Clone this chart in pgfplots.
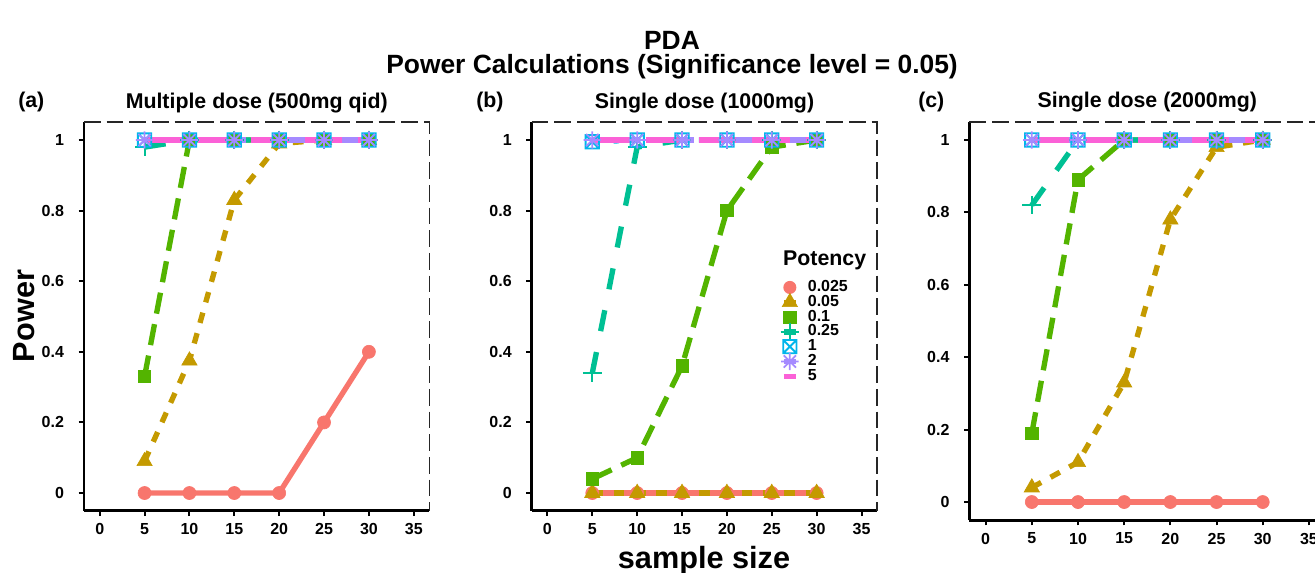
\documentclass[border=0pt]{standalone}
\usepackage{fontspec}
\setmainfont{Liberation Sans}
\usepackage{pgfplots}
\pgfplotsset{compat=1.18}

\definecolor{c1}{HTML}{F8766D}
\definecolor{c2}{HTML}{C49A00}
\definecolor{c3}{HTML}{53B400}
\definecolor{c4}{HTML}{00C094}
\definecolor{c5}{HTML}{00B6EB}
\definecolor{c6}{HTML}{A58AFF}
\definecolor{c7}{HTML}{FB61D7}

\pgfdeclareplotmark{boxx}{%
  \pgfpathrectangle{\pgfpoint{-\pgfplotmarksize}{-\pgfplotmarksize}}{\pgfpoint{2\pgfplotmarksize}{2\pgfplotmarksize}}%
  \pgfpathmoveto{\pgfpoint{-\pgfplotmarksize}{-\pgfplotmarksize}}\pgfpathlineto{\pgfpoint{\pgfplotmarksize}{\pgfplotmarksize}}%
  \pgfpathmoveto{\pgfpoint{-\pgfplotmarksize}{\pgfplotmarksize}}\pgfpathlineto{\pgfpoint{\pgfplotmarksize}{-\pgfplotmarksize}}%
  \pgfusepathqstroke}
\pgfdeclareplotmark{ast8}{%
  \pgfpathmoveto{\pgfpoint{-\pgfplotmarksize}{0pt}}\pgfpathlineto{\pgfpoint{\pgfplotmarksize}{0pt}}%
  \pgfpathmoveto{\pgfpoint{0pt}{-\pgfplotmarksize}}\pgfpathlineto{\pgfpoint{0pt}{\pgfplotmarksize}}%
  \pgfpathmoveto{\pgfpoint{-0.707\pgfplotmarksize}{-0.707\pgfplotmarksize}}\pgfpathlineto{\pgfpoint{0.707\pgfplotmarksize}{0.707\pgfplotmarksize}}%
  \pgfpathmoveto{\pgfpoint{-0.707\pgfplotmarksize}{0.707\pgfplotmarksize}}\pgfpathlineto{\pgfpoint{0.707\pgfplotmarksize}{-0.707\pgfplotmarksize}}%
  \pgfusepathqstroke}

\tikzset{
  ln/.style={line width=4pt, line join=round, line cap=butt},
  lt1/.style={ln,solid},
  lt2/.style={ln,dash pattern=on 8pt off 8pt},
  lt3/.style={ln,dash pattern=on 16pt off 8pt},
  lt4/.style={ln,dash pattern=on 16pt off 16pt},
  lt5/.style={ln,dash pattern=on 4pt off 12pt},
  lt6/.style={ln,dash pattern=on 4pt off 12pt on 16pt off 12pt},
  lt7/.style={ln,dash pattern=on 28pt off 12pt},
  m1/.style={c1, mark=*, mark size=4.9pt, mark options={solid, fill=c1, draw=c1, line width=0.5pt}},
  m2/.style={c2, mark=triangle*, mark size=6.6pt, mark options={solid, fill=c2, draw=c2, line width=0.5pt}},
  m3/.style={c3, mark=square*, mark size=4.6pt, mark options={solid, fill=c3, draw=c3, line width=0.5pt}},
  m4/.style={c4, mark=+, mark size=7pt, mark options={solid, line width=1.5pt}},
  m5/.style={c5, mark=boxx, mark size=5pt, mark options={solid, line width=1.4pt}},
  m6/.style={c6, mark=ast8, mark size=6.5pt, mark options={solid, line width=1.3pt}},
  bb/.style={draw=none, fill=none},
}

\newcommand{\paneldata}[7]{%
  \addplot[forget plot, c1, lt1] coordinates {#1};
  \addplot[forget plot, c2, lt2] coordinates {#2};
  \addplot[forget plot, c3, lt3] coordinates {#3};
  \addplot[forget plot, c4, lt4] coordinates {#4};
  \addplot[forget plot, c5, lt5] coordinates {#5};
  \addplot[forget plot, c6, lt6] coordinates {#6};
  \addplot[forget plot, c7, lt7] coordinates {#7};
  \addplot[forget plot, only marks, m1] coordinates {#1};
  \addplot[forget plot, only marks, m2] coordinates {#2};
  \addplot[forget plot, only marks, m3] coordinates {#3};
  \addplot[forget plot, only marks, m4] coordinates {#4};
  \addplot[forget plot, only marks, m5] coordinates {#5};
  \addplot[forget plot, only marks, m6] coordinates {#6};
  \draw[black!85, line width=1.4pt, dash pattern=on 12.5pt off 4.5pt] (rel axis cs:0,1) -- (rel axis cs:1,1) -- (rel axis cs:1,0);
}

\pgfplotsset{
  panel/.style={
    scale only axis, anchor=north west,
    xmin=-1.75, xmax=36.75, ymin=-0.05, ymax=1.05,
    axis x line*=bottom, axis y line*=left,
    axis line style={line width=2.2pt, black, -},
    tick style={line width=1.5pt, black},
    major tick length=4pt, tick align=outside,
    xtick={0,5,10,15,20,25,30,35},
    ytick={0,0.2,0.4,0.6,0.8,1},
    yticklabels={0,0.2,0.4,0.6,0.8,1},
    /pgf/number format/assume math mode=true,
    ticklabel style={font=\bfseries\fontsize{12}{12}\selectfont},
    xticklabel style={yshift=-2pt},
    yticklabel style={xshift=-7.5pt},
    title style={font=\bfseries\fontsize{16}{16}\selectfont, at={(0.5,1)}, anchor=base, inner sep=0pt, yshift=4.5pt},
    clip=false,
  },
}

\begin{document}
\begin{tikzpicture}
% titles
\node[anchor=base, font=\bfseries\fontsize{19.8}{20}\selectfont] at (504pt,-36.8pt) {PDA};
\node[anchor=base, font=\bfseries\fontsize{19.8}{20}\selectfont] at (504pt,-54.8pt) {Power Calculations (Significance level = 0.05)};
\node[anchor=base west, font=\bfseries\fontsize{16}{16}\selectfont, inner sep=0pt] at (13.5pt,-80.3pt) {(a)};
\node[anchor=base west, font=\bfseries\fontsize{16}{16}\selectfont, inner sep=0pt] at (357pt,-80.3pt) {(b)};
\node[anchor=base west, font=\bfseries\fontsize{16}{16}\selectfont, inner sep=0pt] at (688.5pt,-80.3pt) {(c)};
\node[anchor=base, rotate=90, font=\bfseries\fontsize{23}{23}\selectfont, inner sep=0pt] at (25.5pt,-237pt) {Power};
\node[anchor=base, font=\bfseries\fontsize{23}{23}\selectfont, inner sep=0pt] at (528pt,-426.5pt) {sample size};

% panel (a)
\begin{axis}[panel, at={(63pt,-91.8pt)}, width=259.1pt, height=291.2pt, title={Multiple dose (500mg qid)}]
\paneldata
{(5,0) (10,0) (15,0) (20,0) (25,0.2) (30,0.4)}
{(5,0.09) (10,0.375) (15,0.83) (20,0.99) (25,1) (30,1)}
{(5,0.33) (10,1) (15,1) (20,1) (25,1) (30,1)}
{(5,0.98) (10,1) (15,1) (20,1) (25,1) (30,1)}
{(5,1) (10,1) (15,1) (20,1) (25,1) (30,1)}
{(5,1) (10,1) (15,1) (20,1) (25,1) (30,1)}
{(5,1) (10,1) (15,1) (20,1) (25,1) (30,1)}
\end{axis}

% panel (b)
\begin{axis}[panel, at={(398.8pt,-91.8pt)}, width=259.1pt, height=291.2pt, title={Single dose (1000mg)},
  legend style={at={(0.724,0.594)}, anchor=north west, draw=none, fill=none, inner sep=0pt, outer sep=0pt,
    row sep=0pt, column sep=7.5pt,
    nodes={inner sep=0pt, font=\bfseries\fontsize{12}{12}\selectfont, text height=8.6pt, text depth=2.5pt}},
  legend cell align=left]
\addlegendimage{legend image code/.code={\path[bb] (-6pt,-3pt) rectangle (6pt,3pt);
  \draw[overlay,c1,line width=4pt,solid] (-4.5pt,0pt) -- (4.5pt,0pt);
  \fill[overlay,c1,draw=none] (0pt,0pt) circle (4.9pt);}}
\addlegendimage{legend image code/.code={\path[bb] (-6pt,-3pt) rectangle (6pt,3pt);
  \draw[overlay,c2,line width=4pt,solid] (-4.5pt,0pt) -- (4.5pt,0pt);
  \draw[overlay,c2,fill=c2,line width=0.5pt,solid] plot[only marks, mark=triangle*, mark size=6.6pt] coordinates {(0pt,0pt)};}}
\addlegendimage{legend image code/.code={\path[bb] (-6pt,-3pt) rectangle (6pt,3pt);
  \draw[overlay,c3,line width=4pt,solid] (-4.5pt,0pt) -- (4.5pt,0pt);
  \draw[overlay,c3,fill=c3,line width=0.5pt,solid] plot[only marks, mark=square*, mark size=4.6pt] coordinates {(0pt,0pt)};}}
\addlegendimage{legend image code/.code={\path[bb] (-6pt,-3pt) rectangle (6pt,3pt);
  \draw[overlay,c4,line width=4pt,solid] (-4.5pt,0pt) -- (4.5pt,0pt);
  \draw[overlay,c4,fill=none,line width=1.5pt,solid] plot[only marks, mark=+, mark size=7pt] coordinates {(0pt,0pt)};}}
\addlegendimage{legend image code/.code={\path[bb] (-6pt,-3pt) rectangle (6pt,3pt);
  \draw[overlay,c5,fill=none,line width=1.4pt,solid] plot[only marks, mark=boxx, mark size=5pt] coordinates {(0pt,0pt)};}}
\addlegendimage{legend image code/.code={\path[bb] (-6pt,-3pt) rectangle (6pt,3pt);
  \draw[overlay,c6,line width=4pt,solid] (-4.5pt,0pt) -- (4.5pt,0pt);
  \draw[overlay,c6,fill=none,line width=1.3pt,solid] plot[only marks, mark=ast8, mark size=6.5pt] coordinates {(0pt,0pt)};}}
\addlegendimage{legend image code/.code={\path[bb] (-6pt,-3pt) rectangle (6pt,3pt);
  \draw[overlay,c7,line width=4pt,solid] (-4.5pt,0pt) -- (4.5pt,0pt);}}
\legend{0.025,0.05,0.1,0.25,1,2,5}
\paneldata
{(5,0) (10,0) (15,0) (20,0) (25,0) (30,0)}
{(5,0) (10,0) (15,0) (20,0) (25,0) (30,0)}
{(5,0.04) (10,0.10) (15,0.36) (20,0.80) (25,0.98) (30,1)}
{(5,0.34) (10,0.98) (15,1) (20,1) (25,1) (30,1)}
{(5,0.995) (10,1) (15,1) (20,1) (25,1) (30,1)}
{(5,1) (10,1) (15,1) (20,1) (25,1) (30,1)}
{(5,1) (10,1) (15,1) (20,1) (25,1) (30,1)}
\node[anchor=base west, inner sep=0pt, font=\bfseries\fontsize{16}{16}\selectfont] at (rel axis cs:0.727,0.6315) {Potency};
\end{axis}

% panel (c)
\begin{axis}[panel, at={(727.1pt,-91.4pt)}, width=266.7pt, height=298.7pt, title={Single dose (2000mg)}]
\paneldata
{(5,0) (10,0) (15,0) (20,0) (25,0) (30,0)}
{(5,0.04) (10,0.11) (15,0.33) (20,0.78) (25,0.98) (30,1)}
{(5,0.19) (10,0.89) (15,1) (20,1) (25,1) (30,1)}
{(5,0.82) (10,1) (15,1) (20,1) (25,1) (30,1)}
{(5,1) (10,1) (15,1) (20,1) (25,1) (30,1)}
{(5,1) (10,1) (15,1) (20,1) (25,1) (30,1)}
{(5,1) (10,1) (15,1) (20,1) (25,1) (30,1)}
\end{axis}

\pgfresetboundingbox
\useasboundingbox (0pt,0pt) rectangle (986.25pt,-429pt);
\end{tikzpicture}
\end{document}
